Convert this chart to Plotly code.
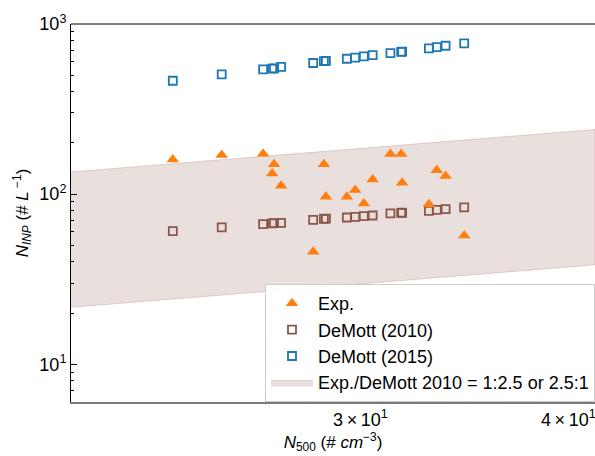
import numpy as np
import plotly.graph_objects as go

# ---- data ----
n500 = [23.14, 24.76, 26.22, 26.55, 26.62, 26.88, 28.10, 28.52, 28.60, 29.44,
        29.78, 30.14, 30.51, 31.27, 31.74, 31.78, 32.98, 33.34, 33.75, 34.63]
exp_inp = [160, 170, 173, 132, 150, 112, 45.8, 150, 96.4, 96.4,
           105.6, 88.2, 122, 172, 172, 116.6, 87.3, 138, 127.6, 57.2]
demott2010 = [60.6, 63.7, 66.6, 67.4, 67.6, 67.8, 70.6, 71.5, 71.7, 72.9,
              73.5, 74.2, 74.9, 77.0, 77.5, 77.7, 79.8, 80.8, 81.6, 83.5]
demott2015 = [464, 506, 541, 546, 548, 559, 590, 605, 607, 625,
              634, 646, 657, 675, 686, 688, 719, 732, 745, 770]
ratio = 2.5
x_limits = [20.1, 41.5]
y_limits = [6, 1000]
x_tickvals = [30, 40]
x_ticktext = ["3\u2009\u00d7\u200910<sup>1</sup>", "4\u2009\u00d7\u200910<sup>1</sup>"]
y_tickvals = [10, 100, 1000]
y_ticktext = ["10<sup>1</sup>", "10<sup>2</sup>", "10<sup>3</sup>"]
y_minor_vals = [m * 10 ** e for e in range(0, 3) for m in range(2, 10)]

BLUE = "#1f77b4"
BROWN = "#8c564b"
ORANGE = "#ff7f0e"
FONT = "Liberation Sans, Arial, sans-serif"

# power-law fit of DeMott (2010) for the ratio band
coef = np.polyfit(np.log10(n500), np.log10(demott2010), 1)
bx = np.array(x_limits)
center = 10 ** np.polyval(coef, np.log10(bx))
band_x = list(bx) + list(bx[::-1])
band_y = list(center * ratio) + list((center / ratio)[::-1])

fig = go.Figure()
fig.add_trace(go.Scatter(
    x=band_x, y=band_y, mode="lines", fill="toself",
    fillcolor="rgba(140,86,75,0.19)",
    line=dict(color="rgba(140,86,75,0.22)", width=1),
    name="Exp./DeMott 2010 = 1:2.5 or 2.5:1",
    legendgroup="d", legendrank=4,
))
fig.add_trace(go.Scatter(
    x=n500, y=demott2015, mode="markers", name="DeMott (2015)",
    marker=dict(symbol="square-open", size=8, color=BLUE, line=dict(width=1.8, color=BLUE)),
    legendgroup="c", legendrank=3,
))
fig.add_trace(go.Scatter(
    x=n500, y=demott2010, mode="markers", name="DeMott (2010)",
    marker=dict(symbol="square-open", size=8, color=BROWN, line=dict(width=1.8, color=BROWN)),
    legendgroup="b", legendrank=2,
))
fig.add_trace(go.Scatter(
    x=n500, y=exp_inp, mode="markers", name="Exp.",
    marker=dict(symbol="triangle-up", size=11, color=ORANGE, line=dict(width=0)),
    legendgroup="a", legendrank=1,
))

fig.update_layout(
    width=595, height=456,
    margin=dict(l=71, r=0, t=24, b=54),
    paper_bgcolor="white", plot_bgcolor="white",
    font=dict(family=FONT, size=17, color="black"),
    showlegend=True,
    legend=dict(
        x=1, xanchor="right", y=0, yanchor="bottom",
        bgcolor="rgba(255,255,255,0.95)", bordercolor="#cccccc", borderwidth=1,
        font=dict(size=18, family=FONT), tracegroupgap=2,
        traceorder="normal", itemwidth=42,
    ),
    shapes=[dict(type="line", xref="paper", yref="paper", x0=0, x1=1, y0=1, y1=1,
                 line=dict(color="black", width=1))],
)
fig.update_xaxes(
    type="log", range=[np.log10(x_limits[0]), np.log10(x_limits[1])],
    tickvals=x_tickvals, ticktext=x_ticktext, ticklabeloverflow="allow",
    ticks="inside", ticklen=5, tickcolor="#999999",
    showline=True, linecolor="#7a7a7a", linewidth=2,
    showgrid=False, zeroline=False,
    tickfont=dict(size=18, family=FONT),
    title=dict(text="<i>N</i><sub>500</sub> (# <i>cm</i><sup>\u22123</sup>)",
               font=dict(size=17, family=FONT), standoff=4),
)
fig.update_yaxes(
    type="log", range=[np.log10(y_limits[0]), np.log10(y_limits[1])],
    tickvals=y_tickvals, ticktext=y_ticktext,
    ticks="inside", ticklen=6, tickcolor="black",
    minor=dict(tickmode="array", tickvals=y_minor_vals, ticks="inside",
               ticklen=3, tickcolor="black", showgrid=False),
    showline=True, linecolor="black", linewidth=1,
    showgrid=False, zeroline=False,
    tickfont=dict(size=18, family=FONT),
    title=dict(text="<i>N<sub>INP</sub></i> (# <i>L</i><sup> \u22121</sup>)",
               font=dict(size=17, family=FONT), standoff=6),
)

fig.write_html("out.html")
